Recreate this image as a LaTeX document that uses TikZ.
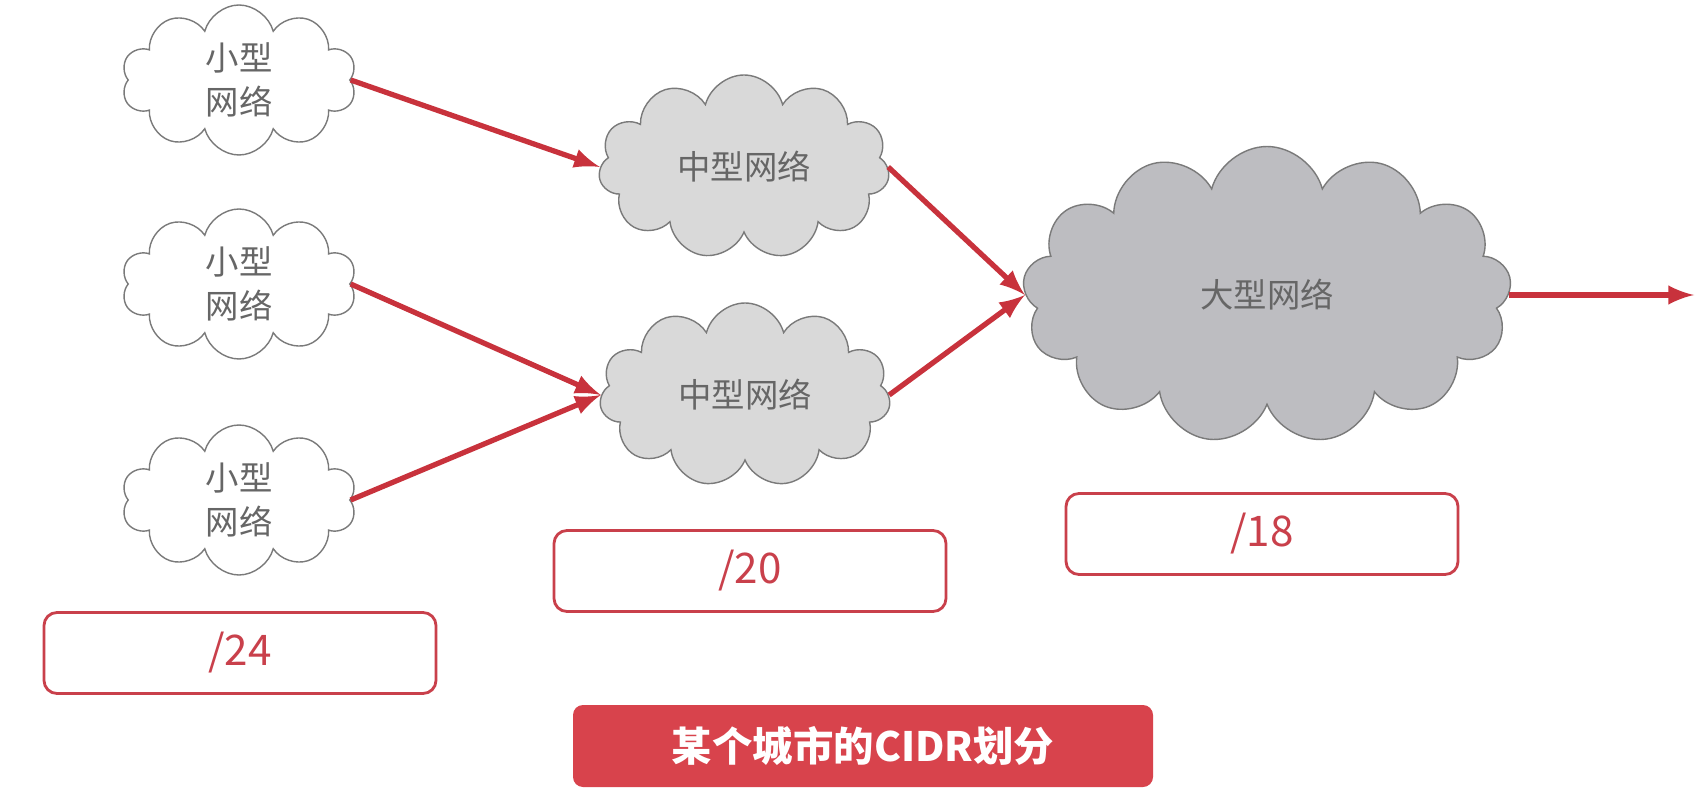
\documentclass[tikz,border=0pt]{standalone}
\usepackage{fontspec}
\setmainfont{Noto Sans CJK SC}
\usepackage{tikz}
\usetikzlibrary{shapes.symbols, arrows}
\definecolor{arrowred}{HTML}{C8323C}
\definecolor{maskred}{HTML}{C9404B}
\definecolor{titlered}{HTML}{D8434C}
\definecolor{cloudline}{HTML}{7A7A7A}
\definecolor{cloudtext}{HTML}{666666}
\definecolor{midgray}{HTML}{D9D9D9}
\definecolor{biggray}{HTML}{BDBDC1}
\tikzstyle{smallnet}=[cloud, cloud puffs=10, cloud ignores aspect, draw=cloudline, fill=white, inner sep=0pt, minimum width=23.5mm, minimum height=15mm, align=center, text=cloudtext, font=\fontsize{9.5}{12.6}\selectfont]
\tikzstyle{midnet}=[cloud, cloud puffs=11, cloud ignores aspect, draw=cloudline, fill=midgray, minimum width=29.1mm, minimum height=18.4mm, text=cloudtext, font=\fontsize{9.5}{12}\selectfont]
\tikzstyle{bignet}=[cloud, cloud puffs=13, cloud ignores aspect, draw=cloudline, fill=biggray, minimum width=48.9mm, minimum height=29.7mm, text=cloudtext, font=\fontsize{9.5}{12}\selectfont]
\tikzstyle{mask}=[rectangle, rounded corners=1.3mm, draw=maskred, line width=0.8pt, minimum width=39.2mm, minimum height=8.1mm, text=maskred, font=\fontsize{12}{14}\selectfont]
\tikzstyle{title}=[rectangle, rounded corners=1mm, fill=titlered, minimum width=58mm, minimum height=8.2mm, text=white, font=\fontsize{11.5}{14}\selectfont\bfseries]
\tikzstyle{arrow}=[line width=1.5pt, draw=arrowred, ->, >=latex]

\begin{document}
\begin{tikzpicture}[x=0.1mm, y=-0.1mm]
		\useasboundingbox[fill=white] (0,0) rectangle (1705,808);
		
		\node(small1)[smallnet] at (239,80){小型\\网络};
		\node(small2)[smallnet] at (239,284){小型\\网络};
		\node(small3)[smallnet] at (239,500){小型\\网络};
		
		\node(medium1)[midnet] at (744,167){中型网络};
		\node(medium2)[midnet] at (745,395){中型网络};
		
		\node(large)[bignet] at (1267,295){大型网络};
		\coordinate(out) at (1694,295);
		
		\draw[arrow](small1.east)--(medium1.west);
		\draw[arrow](small2.east)--(medium2.west);
		\draw[arrow](small3.east)--(medium2.west);
		\draw[arrow](medium1.east)--(large.west);
		\draw[arrow](medium2.east)--(large.west);
		\draw[arrow](large.east)--(out);
		
		\node(mask24)[mask] at (240,653){/24};
		\node(mask20)[mask] at (750,571){/20};
		\node(mask18)[mask] at (1262,534){/18};
		
		\node(caption)[title] at (863,746){某个城市的CIDR划分};
	\end{tikzpicture}
\end{document}
